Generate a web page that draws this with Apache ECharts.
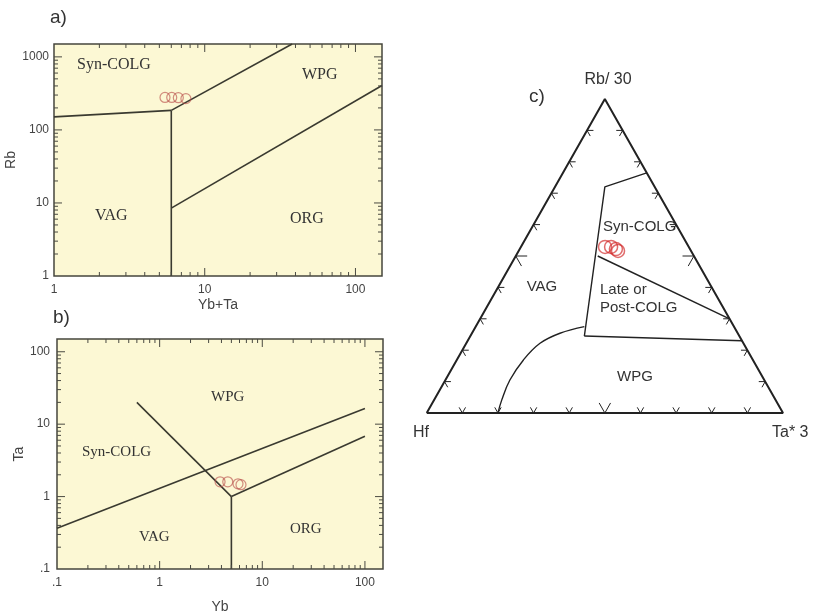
<!DOCTYPE html>
<html>
<head>
<meta charset="utf-8">
<script src="https://cdn.jsdelivr.net/npm/echarts@6/dist/echarts.min.js"></script>
<style>
html, body { margin: 0; padding: 0; background: #fff; }
#main { width: 813px; height: 615px; }
</style>
</head>
<body>
<div id="main"></div>
<script>
// ---- a) Rb vs Yb+Ta ----
var aRangeX = [1, 150];
var aRangeY = [1, 1500];
var aSynVag = [[1, 151], [6, 185]];
var aVertical = [[6, 1], [6, 185]];
var aWpgSyn = [[6, 185], [38, 1500]];
var aWpgOrg = [[6, 8.5], [150, 406]];
var aSampleX = [5.45, 6.04, 6.68, 7.5];
var aSampleY = [278, 278, 276, 268];

// ---- b) Ta vs Yb ----
var bRangeX = [0.1, 150];
var bRangeY = [0.1, 150];
var bUpper = [[0.1, 0.365], [100, 16.4]];
var bDiagonal = [[0.6, 20], [5, 1]];
var bVertical = [[5, 0.1], [5, 1]];
var bLower = [[5, 1], [100, 6.8]];
var bSampleX = [3.88, 4.61, 5.8, 6.2];
var bSampleY = [1.6, 1.6, 1.5, 1.46];

// ---- c) Hf - Rb/30 - Ta*3, as [Hf, Rb/30, Ta*3] percent ----
var cTriangle = [[100, 0, 0], [0, 0, 100], [0, 100, 0], [100, 0, 0]];
var cSynTop = [[0, 76.5, 23.5], [14, 72, 14], [43.5, 24.5, 32]];
var cSynLate = [[27, 50, 23], [0, 30, 70]];
var cLateBase = [[43.5, 24.5, 32], [0, 23, 77]];
var cWpgCurve = [[42, 27.5, 30.5], [49.9, 25.4, 24.7], [57.1, 22.2, 20.7], [64.4, 16.9, 18.7],
                 [71.4, 10.5, 18.1], [76.9, 4.1, 19.0], [80, 0, 20]];
var cSamples = [[23.5, 52.9, 23.6], [21.8, 52.9, 25.3], [20.8, 52.2, 27.0], [20.5, 51.6, 27.9]];
var cTicks = [0.1, 0.2, 0.3, 0.4, 0.5, 0.6, 0.7, 0.8, 0.9];

var logLabels = { '0.1': '.1', '1': '1', '10': '10', '100': '100', '1000': '1000' };

var sans = 'Liberation Sans, Arial, sans-serif';
var serif = 'Liberation Serif, Times New Roman, serif';
var lineColor = '#3a3a30';

function zip(xs, ys) {
  return xs.map(function (x, i) { return [x, ys[i]]; });
}

function toXY(p) {
  var s = p[0] + p[1] + p[2];
  return [(p[2] + p[1] / 2) / s, p[1] / s];
}

function logFormatter(v) {
  var l = Math.log10(v);
  var k = Math.round(l);
  if (Math.abs(l - k) > 1e-6) return '';
  return logLabels[String(Math.pow(10, k))] || '';
}

function logTicks(min, max) {
  var out = [];
  for (var e = Math.floor(Math.log10(min)); e <= Math.ceil(Math.log10(max)); e++) {
    for (var m = 1; m <= 9; m++) {
      var v = m * Math.pow(10, e);
      if (v > min * 1.001 && v < max * 0.999) out.push([v, m === 1 ? 1 : 0]);
    }
  }
  return out;
}

var tickStyle = { stroke: '#4a4a42', lineWidth: 1 };

function tickSeries(gi, xr, yr) {
  var data = [];
  logTicks(xr[0], xr[1]).forEach(function (t) { data.push([t[0], yr[0], 0, t[1]]); });
  logTicks(yr[0], yr[1]).forEach(function (t) { data.push([xr[0], t[0], 1, t[1]]); });
  return {
    type: 'custom', xAxisIndex: gi, yAxisIndex: gi, silent: true, animation: false, z: 4,
    data: data, encode: { x: 0, y: 1 },
    renderItem: function (params, api) {
      var len = api.value(3) ? 8 : 4;
      var a, b;
      if (api.value(2) === 0) {
        a = api.coord([api.value(0), yr[0]]);
        b = api.coord([api.value(0), yr[1]]);
        return { type: 'group', children: [
          { type: 'line', shape: { x1: a[0], y1: a[1], x2: a[0], y2: a[1] - len }, style: tickStyle },
          { type: 'line', shape: { x1: b[0], y1: b[1], x2: b[0], y2: b[1] + len }, style: tickStyle }
        ] };
      }
      a = api.coord([xr[0], api.value(1)]);
      b = api.coord([xr[1], api.value(1)]);
      return { type: 'group', children: [
        { type: 'line', shape: { x1: a[0], y1: a[1], x2: a[0] + len, y2: a[1] }, style: tickStyle },
        { type: 'line', shape: { x1: b[0], y1: b[1], x2: b[0] - len, y2: b[1] }, style: tickStyle }
      ] };
    }
  };
}

function seg(gi, data, extra) {
  var s = {
    type: 'line', xAxisIndex: gi, yAxisIndex: gi, data: data, symbol: 'none', showSymbol: false,
    silent: true, animation: false, z: 3,
    lineStyle: { color: lineColor, width: 1.6 }
  };
  for (var k in extra) s[k] = extra[k];
  return s;
}

function samples(gi, data, size, color, width) {
  return {
    type: 'scatter', xAxisIndex: gi, yAxisIndex: gi, data: data, symbol: 'circle',
    symbolSize: size, silent: true, animation: false, z: 5,
    itemStyle: { color: 'rgba(0,0,0,0)', borderColor: color, borderWidth: width }
  };
}

function ternaryTickSeries() {
  var data = [];
  for (var side = 0; side < 3; side++) {
    cTicks.forEach(function (t) { data.push([t, side, Math.abs(t - 0.5) < 1e-6 ? 1 : 0]); });
  }
  return {
    type: 'custom', xAxisIndex: 2, yAxisIndex: 2, silent: true, animation: false, z: 4,
    data: data, encode: { x: 0, y: 1 },
    renderItem: function (params, api) {
      var t = api.value(0), side = api.value(1);
      var L = api.value(2) ? 0.032 : 0.018;
      var p, a1, a2;
      if (side === 0) { p = [1 - t, 0, t]; a1 = [1 - t - L, L, t]; a2 = [1 - t, L, t - L]; }
      else if (side === 1) { p = [1 - t, t, 0]; a1 = [1 - t - L, t, L]; a2 = [1 - t, t - L, L]; }
      else { p = [0, t, 1 - t]; a1 = [L, t, 1 - t - L]; a2 = [L, t - L, 1 - t]; }
      return {
        type: 'polyline',
        shape: { points: [api.coord(toXY(a1)), api.coord(toXY(p)), api.coord(toXY(a2))] },
        style: { stroke: '#222', lineWidth: 1, fill: null }
      };
    }
  };
}

function logAxis(gi, range, name, nameGap, margin) {
  return {
    type: 'log', gridIndex: gi, min: range[0], max: range[1],
    name: name, nameLocation: 'middle', nameGap: nameGap,
    nameTextStyle: { fontFamily: sans, fontSize: 14, color: '#444' },
    axisLine: { show: false }, axisTick: { show: false }, splitLine: { show: false },
    axisLabel: { formatter: logFormatter, fontFamily: sans, fontSize: 12, color: '#444', margin: margin }
  };
}

function hiddenAxis(gi) {
  return { type: 'value', gridIndex: gi, min: 0, max: 1, show: false };
}

function textAt(text, x, y, font, size, align) {
  return {
    type: 'text', x: x, y: y, silent: true,
    style: { text: text, fontFamily: font, fontSize: size, fill: '#333', align: align || 'left', verticalAlign: 'middle' }
  };
}

var gridStyle = { show: true, backgroundColor: '#fcf8d4', borderColor: '#45453d', borderWidth: 1.5 };

var chart = echarts.init(document.getElementById('main'));
chart.setOption({
  animation: false,
  grid: [
    Object.assign({ left: 54, top: 44, width: 328, height: 232 }, gridStyle),
    Object.assign({ left: 57, top: 339, width: 326, height: 232 }, gridStyle),
    { left: 426.7, top: 99, width: 356.3, height: 314, show: false }
  ],
  xAxis: [
    logAxis(0, aRangeX, 'Yb+Ta', 22, 8),
    logAxis(1, bRangeX, 'Yb', 31, 8),
    hiddenAxis(2)
  ],
  yAxis: [
    logAxis(0, aRangeY, 'Rb', 34, 5),
    logAxis(1, bRangeY, 'Ta', 22, 7),
    hiddenAxis(2)
  ],
  graphic: [
    textAt('a)', 50, 18, sans, 19),
    textAt('b)', 53, 318, sans, 19),
    textAt('c)', 529, 97, sans, 19),
    textAt('Syn-COLG', 77, 65, serif, 16),
    textAt('WPG', 302, 75, serif, 16),
    textAt('VAG', 95, 216, serif, 16),
    textAt('ORG', 290, 219, serif, 16),
    textAt('WPG', 211, 397, serif, 15),
    textAt('Syn-COLG', 82, 452, serif, 15),
    textAt('VAG', 139, 537, serif, 15),
    textAt('ORG', 290, 529, serif, 15),
    textAt('Rb/ 30', 608, 80, sans, 16, 'center'),
    textAt('Hf', 413, 433, sans, 16),
    textAt('Ta* 3', 772, 433, sans, 16),
    textAt('Syn-COLG', 603, 227, sans, 15),
    textAt('VAG', 542, 287, sans, 15, 'center'),
    textAt('Late or', 600, 290, sans, 15),
    textAt('Post-COLG', 600, 308, sans, 15),
    textAt('WPG', 635, 377, sans, 15, 'center')
  ],
  series: [
    tickSeries(0, aRangeX, aRangeY),
    seg(0, aSynVag), seg(0, aVertical), seg(0, aWpgSyn), seg(0, aWpgOrg),
    samples(0, zip(aSampleX, aSampleY), 10, 'rgba(185,80,75,0.8)', 1.2),

    tickSeries(1, bRangeX, bRangeY),
    seg(1, bUpper), seg(1, bDiagonal), seg(1, bVertical), seg(1, bLower),
    samples(1, zip(bSampleX, bSampleY), 10, 'rgba(185,80,75,0.8)', 1.2),

    seg(2, cTriangle.map(toXY), { lineStyle: { color: '#222', width: 2 } }),
    seg(2, cSynTop.map(toXY), { lineStyle: { color: '#222', width: 1.4 } }),
    seg(2, cSynLate.map(toXY), { lineStyle: { color: '#222', width: 1.4 } }),
    seg(2, cLateBase.map(toXY), { lineStyle: { color: '#222', width: 1.4 } }),
    seg(2, cWpgCurve.map(toXY), { smooth: 0.4, lineStyle: { color: '#222', width: 1.4 } }),
    ternaryTickSeries(),
    samples(2, cSamples.map(toXY), 13, 'rgba(210,40,40,0.85)', 1.5)
  ]
});
</script>
</body>
</html>
